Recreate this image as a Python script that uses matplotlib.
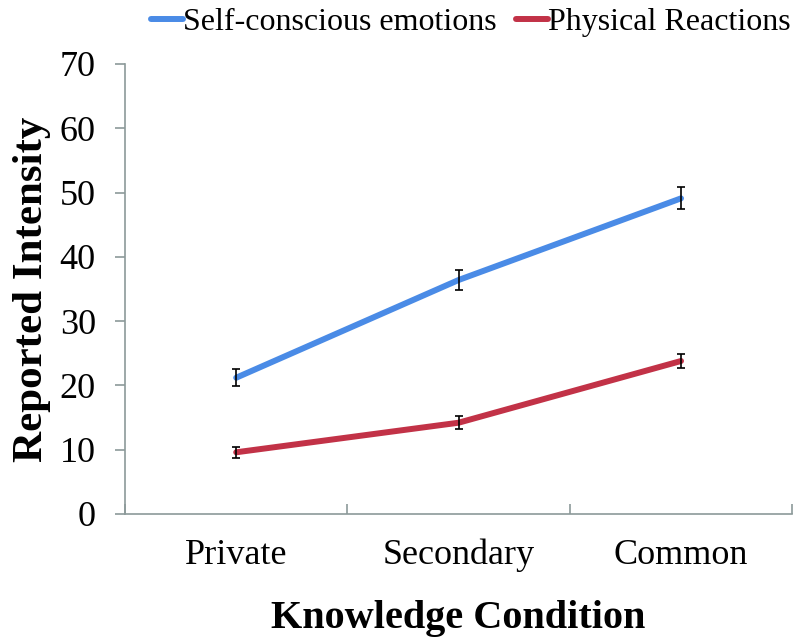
import matplotlib
matplotlib.use("Agg")
import matplotlib.pyplot as plt

categories = ["Private", "Secondary", "Common"]
self_conscious = [21.2, 36.4, 49.1]
self_conscious_err = [1.3, 1.5, 1.7]
physical = [9.6, 14.2, 23.8]
physical_err = [0.9, 1.0, 1.1]
yticks = [0, 10, 20, 30, 40, 50, 60, 70]

plt.rcParams['font.family'] = ['Liberation Serif', 'DejaVu Serif']

fig = plt.figure(figsize=(7.93, 6.4), dpi=100)
ax = fig.add_axes([125/793, 1-514/640, 1-125/793 - 0.001, (514-64)/640])

x = [i + 0.5 for i in range(len(categories))]
blue = '#4A8BE6'
red = '#C23247'
ax.plot(x, self_conscious, color=blue, lw=4.3, label='Self-conscious emotions', solid_capstyle='round', zorder=3)
ax.errorbar(x, self_conscious, yerr=self_conscious_err, fmt='none', ecolor='black', elinewidth=1.2, capsize=2.6, capthick=1.2, zorder=4)
ax.plot(x, physical, color=red, lw=4.3, label='Physical Reactions', solid_capstyle='round', zorder=3)
ax.errorbar(x, physical, yerr=physical_err, fmt='none', ecolor='black', elinewidth=1.2, capsize=2.6, capthick=1.2, zorder=4)

ax.set_xlim(0, 3)
ax.set_ylim(0, 70)
ax.set_yticks(yticks)
ax.set_yticklabels([str(v) for v in yticks], fontsize=26)
ax.set_xticks([0, 1, 2, 3])
ax.set_xticklabels([])
ax.set_xticks(x, minor=True)
ax.set_xticklabels(categories, minor=True, fontsize=26)
ax.tick_params(axis='x', which='minor', length=0, pad=18)
ax.tick_params(axis='x', which='major', length=7, color='#8C9A9A', width=1.2, direction='in')
ax.tick_params(axis='y', length=7, color='#8C9A9A', width=1.2, direction='out', pad=14)

for s in ['top', 'right']:
    ax.spines[s].set_visible(False)
for s in ['left', 'bottom']:
    ax.spines[s].set_color('#8C9A9A')
    ax.spines[s].set_linewidth(1.2)

ax.set_ylabel('Reported Intensity', fontsize=31, fontweight='bold', labelpad=6)
ax.set_xlabel('Knowledge Condition', fontsize=29, fontweight='bold', labelpad=20)

leg = fig.legend(loc='upper right', bbox_to_anchor=(0.997, 0.988), ncol=2, frameon=False,
                 fontsize=23, handlelength=1.0, handletextpad=0.0, columnspacing=0.6,
                 borderaxespad=0.0, borderpad=0.0)

fig.savefig('out.png', dpi=100)
